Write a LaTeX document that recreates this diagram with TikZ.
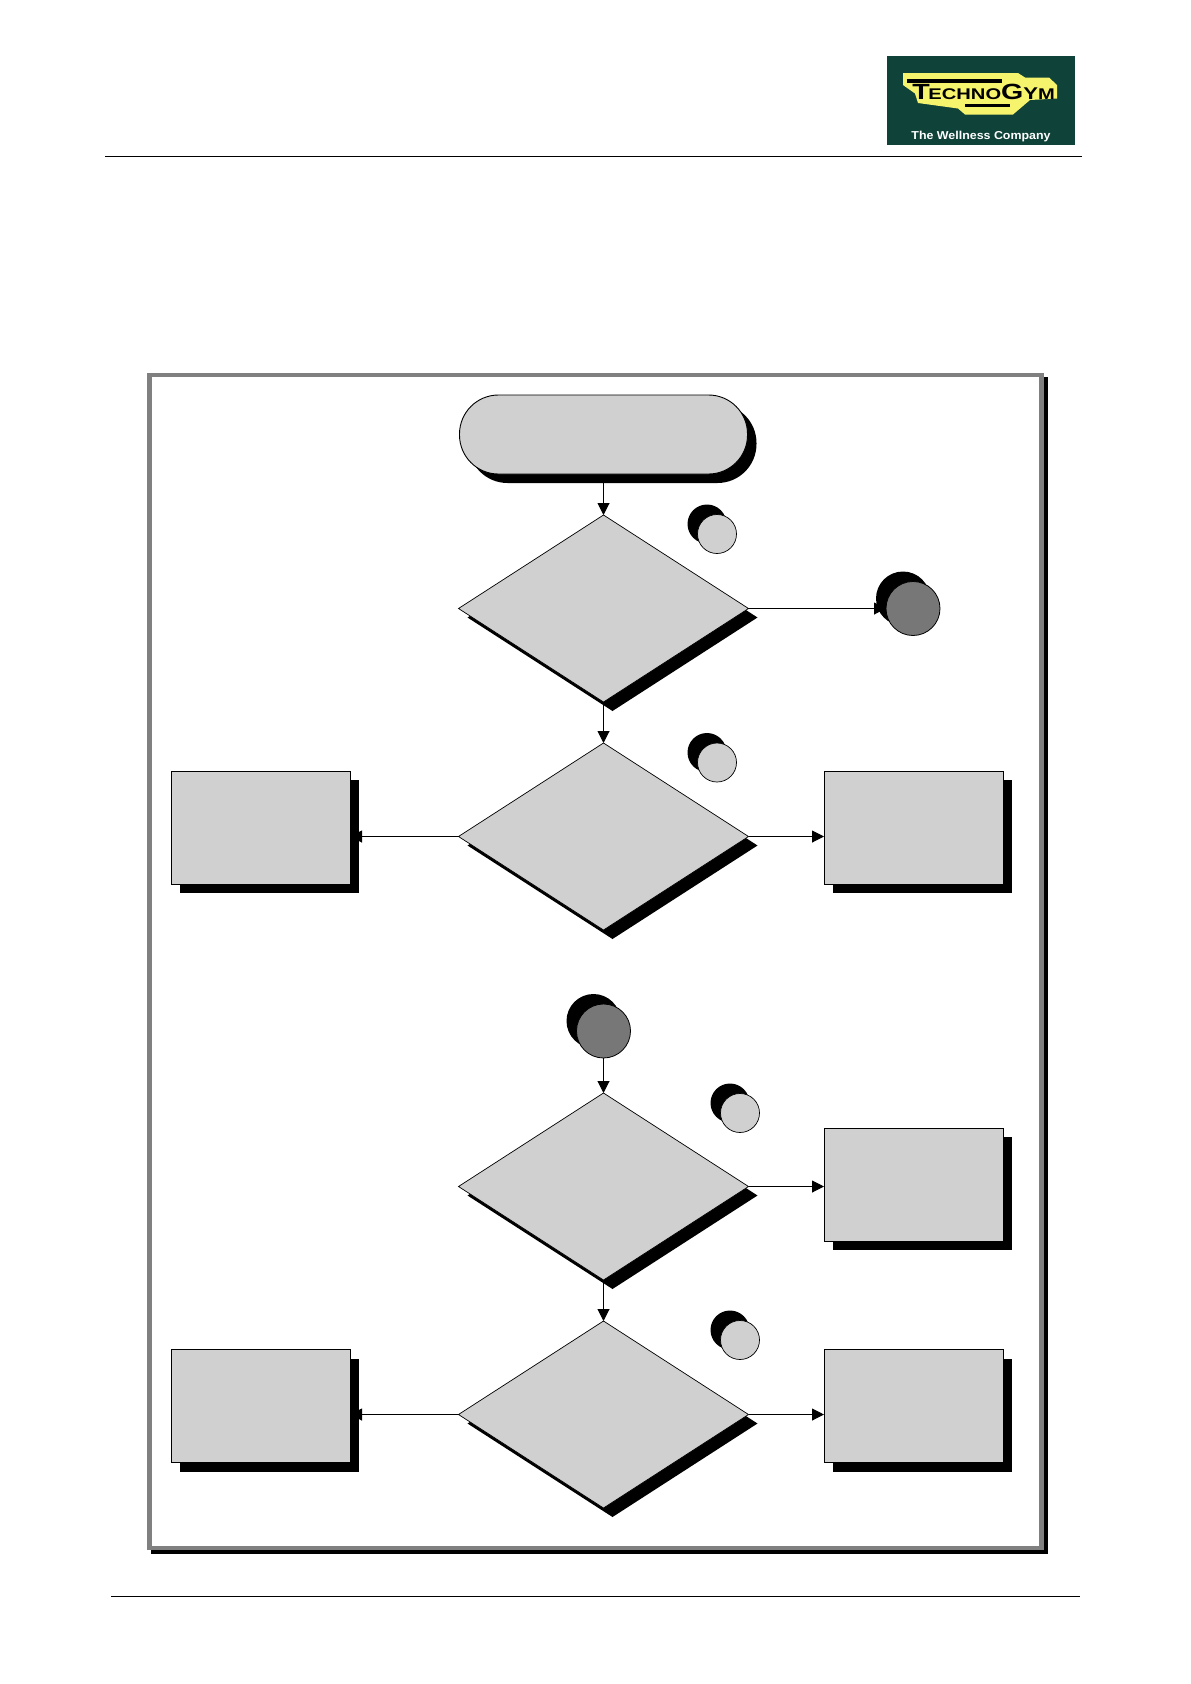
\documentclass[tikz,border=0pt]{standalone}
\usepackage{fontspec}
\setmainfont{Liberation Sans}
\usetikzlibrary{shapes.geometric,shadows,arrows.meta}
\definecolor{shapegray}{HTML}{D0D0D0}
\definecolor{dotgray}{HTML}{777777}
\definecolor{framegray}{HTML}{808080}
\definecolor{logogreen}{HTML}{0F4238}
\definecolor{logoyellow}{HTML}{F6F46C}
\pgfdeclarelayer{under}
\pgfdeclarelayer{frame}
\pgfsetlayers{frame,under,main}
\tikzset{
  x=1pt,y=-1pt,
  shad/.style={drop shadow={shadow xshift=#1,shadow yshift=-#1,fill=black,opacity=1}},
  base/.style={draw=black,line width=0.9pt,inner sep=0pt,outer sep=0pt,fill=shapegray},
  terminator/.style={base,rectangle,rounded corners=39pt,minimum width=288pt,minimum height=79pt,shad=9pt},
  decision/.style={base,diamond,aspect=1.545,minimum width=290pt,minimum height=187pt,line width=0.7pt,shad=9pt},
  actionbox/.style={base,rectangle,minimum width=179pt,minimum height=113pt,shad=9pt},
  smalldot/.style={base,circle,minimum size=39pt,line width=0.7pt,drop shadow={shadow xshift=-10pt,shadow yshift=10pt,fill=black,opacity=1}},
  bigdot/.style={base,circle,minimum size=54pt,fill=dotgray,line width=0.8pt,drop shadow={shadow xshift=-10pt,shadow yshift=10pt,fill=black,opacity=1}},
  outerframe/.style={rectangle,draw=framegray,fill=white,line width=4.5pt,inner sep=0pt,outer sep=0pt,minimum width=892pt,minimum height=1173pt,
    drop shadow={shadow xshift=4pt,shadow yshift=-4pt,fill=black,draw=black,opacity=1}},
  conn/.style={draw=black,line width=1pt,-{Triangle[length=12pt,width=12pt]}},
  rule/.style={draw=black,line width=1pt},
}
\begin{document}
\begin{tikzpicture}
\useasboundingbox (0,0) rectangle (1191,1684);

% page and frame
\begin{pgfonlayer}{frame}
\fill[white] (0,0) rectangle (1191,1684);
\node[outerframe] (frm) at (595.5,961.5) {};
\end{pgfonlayer}

% header and footer
\draw[rule] (105,156) -- (1082,156);
\draw[rule] (111,1596) -- (1080,1596);

% logo
\fill[logogreen] (887,56) rectangle (1075,145);
\fill[logoyellow] (903,73) -- (1018,73) -- (1025,77.5) -- (1049,77.5) -- (1057,85) -- (1057,98.5)
  -- (1030,100) -- (1013,114.5) -- (965,114.5) -- (958,108.5) -- (918,103) -- (915,93.5) -- (903,85) -- cycle;
\fill[black] (907,79) rectangle (1002,83);
\fill[black] (965,104) rectangle (1010,106.7);
\node[inner sep=0pt,anchor=base west,text=black,font=\bfseries,xscale=1.3] (brand) at (912,99.5)
  {\fontsize{22}{22}\selectfont T\kern-1pt\fontsize{15.5}{16}\selectfont ECHNO\fontsize{22}{22}\selectfont G\fontsize{17}{17}\selectfont Y\fontsize{15.5}{16}\selectfont M};
\node[inner sep=0pt,text=white,font=\bfseries\fontsize{11.5}{12}\selectfont,xscale=1.08] (tagline) at (981,137) {The Wellness Company};

% shapes
\node[terminator] (start) at (603.5,434.5) {};
\node[decision] (d1) at (603.5,608.5) {};
\node[decision] (d2) at (603.5,836.5) {};
\node[decision] (d3) at (603.5,1186.5) {};
\node[decision] (d4) at (603.5,1414.5) {};
\node[smalldot] (s1) at (717,534) {};
\node[smalldot] (s2) at (717,762.5) {};
\node[smalldot] (s3) at (740,1113) {};
\node[smalldot] (s4) at (740,1340) {};
\node[bigdot] (e1) at (913,608.5) {};
\node[bigdot] (e2) at (603.5,1031) {};
\node[actionbox] (b1) at (260.5,827.5) {};
\node[actionbox] (b2) at (913.5,827.5) {};
\node[actionbox] (b3) at (913.5,1184.5) {};
\node[actionbox] (b4) at (260.5,1406) {};
\node[actionbox] (b5) at (913.5,1406) {};

% connectors
\begin{pgfonlayer}{under}
\draw[conn] (start.south) -- (d1.north);
\draw[conn] (d1.east) -- (e1.west);
\draw[conn] (d1.south) -- (d2.north);
\draw[conn] (d2.west) -- (d2.west -| b1.east);
\draw[conn] (d2.east) -- (d2.east -| b2.west);
\draw[conn] (e2.south) -- (d3.north);
\draw[conn] (d3.east) -- (d3.east -| b3.west);
\draw[conn] (d3.south) -- (d4.north);
\draw[conn] (d4.west) -- (d4.west -| b4.east);
\draw[conn] (d4.east) -- (d4.east -| b5.west);
\end{pgfonlayer}
\end{tikzpicture}
\end{document}
